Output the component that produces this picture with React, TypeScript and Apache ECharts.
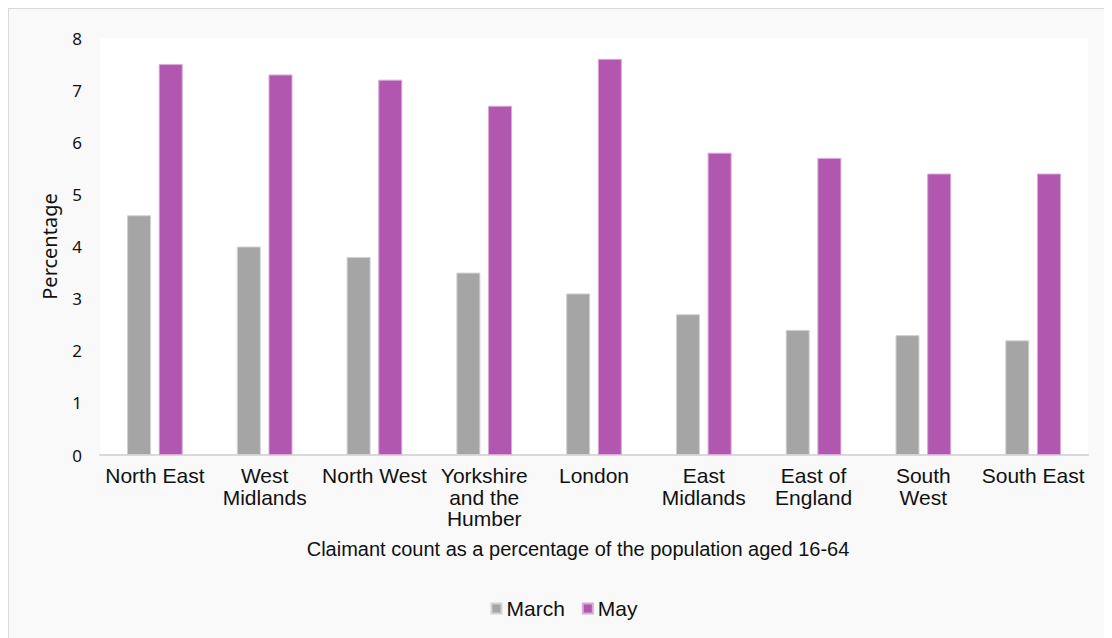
import React, { useEffect, useRef } from "react";
import * as echarts from "echarts";

const categories = [
  "North East",
  "West\nMidlands",
  "North West",
  "Yorkshire\nand the\nHumber",
  "London",
  "East\nMidlands",
  "East of\nEngland",
  "South\nWest",
  "South East",
];
const marchValues = [4.6, 4.0, 3.8, 3.5, 3.1, 2.7, 2.4, 2.3, 2.2];
const mayValues = [7.5, 7.3, 7.2, 6.7, 7.6, 5.8, 5.7, 5.4, 5.4];
const seriesNames = ["March", "May"];
const yTicks = { min: 0, max: 8, interval: 1 };
const xTitle = "Claimant count as a percentage of the population aged 16-64";
const yTitle = "Percentage";

const FONT = "'Liberation Sans', Arial, Helvetica, sans-serif";
const FONT2 = "'Noto Sans', 'Open Sans', sans-serif";

export default function App() {
  const ref = useRef<HTMLDivElement>(null);
  useEffect(() => {
    if (!ref.current) return;
    const chart = echarts.init(ref.current, undefined, { renderer: "svg" });
    chart.setOption({
      animation: false,
      backgroundColor: "#f9f9f9",
      textStyle: { fontFamily: FONT },
      grid: {
        left: 91,
        top: 29,
        width: 988,
        height: 417,
        show: true,
        backgroundColor: "#ffffff",
        borderWidth: 0,
        containLabel: false,
      },
      legend: {
        data: seriesNames,
        top: 584,
        left: "center",
        itemWidth: 10,
        itemHeight: 10,
        itemGap: 17,
        icon: "rect",
        textStyle: { fontSize: 21, color: "#111", fontFamily: FONT },
      },
      xAxis: {
        type: "category",
        data: categories,
        name: xTitle,
        nameLocation: "middle",
        nameGap: 84,
        nameTextStyle: { fontSize: 20, color: "#111", fontFamily: FONT, padding: [0, 32, 0, 0] },
        axisLine: { lineStyle: { color: "#d9d9d9", width: 2 } },
        axisTick: { show: false },
        axisLabel: {
          fontSize: 21,
          color: "#111",
          lineHeight: 21.5,
          margin: 10,
          interval: 0,
          fontFamily: FONT,
        },
      },
      yAxis: {
        type: "value",
        min: yTicks.min,
        max: yTicks.max,
        interval: yTicks.interval,
        name: yTitle,
        nameLocation: "middle",
        nameGap: 41,
        nameTextStyle: { fontSize: 20, color: "#111", fontFamily: FONT2 },
        axisLine: { show: false },
        axisTick: { show: false },
        splitLine: { show: false },
        axisLabel: { fontSize: 17, color: "#111", margin: 18, fontFamily: FONT2 },
      },
      series: [
        {
          name: seriesNames[0],
          type: "bar",
          data: marchValues,
          barWidth: 24,
          barGap: "32%",
          itemStyle: { color: "#a5a5a5", borderColor: "#d2d2d2", borderWidth: 1 },
        },
        {
          name: seriesNames[1],
          type: "bar",
          data: mayValues,
          barWidth: 24,
          barGap: "32%",
          itemStyle: { color: "#b157b0", borderColor: "#d9a9d8", borderWidth: 1 },
        },
      ],
    });
    return () => chart.dispose();
  }, []);
  return (
    <div
      style={{
        width: 1110,
        height: 640,
        border: "1px solid #d9d9d9",
        background: "#f9f9f9",
        boxSizing: "content-box",
      }}
    >
      <div ref={ref} style={{ width: 1110, height: 640 }} />
    </div>
  );
}
